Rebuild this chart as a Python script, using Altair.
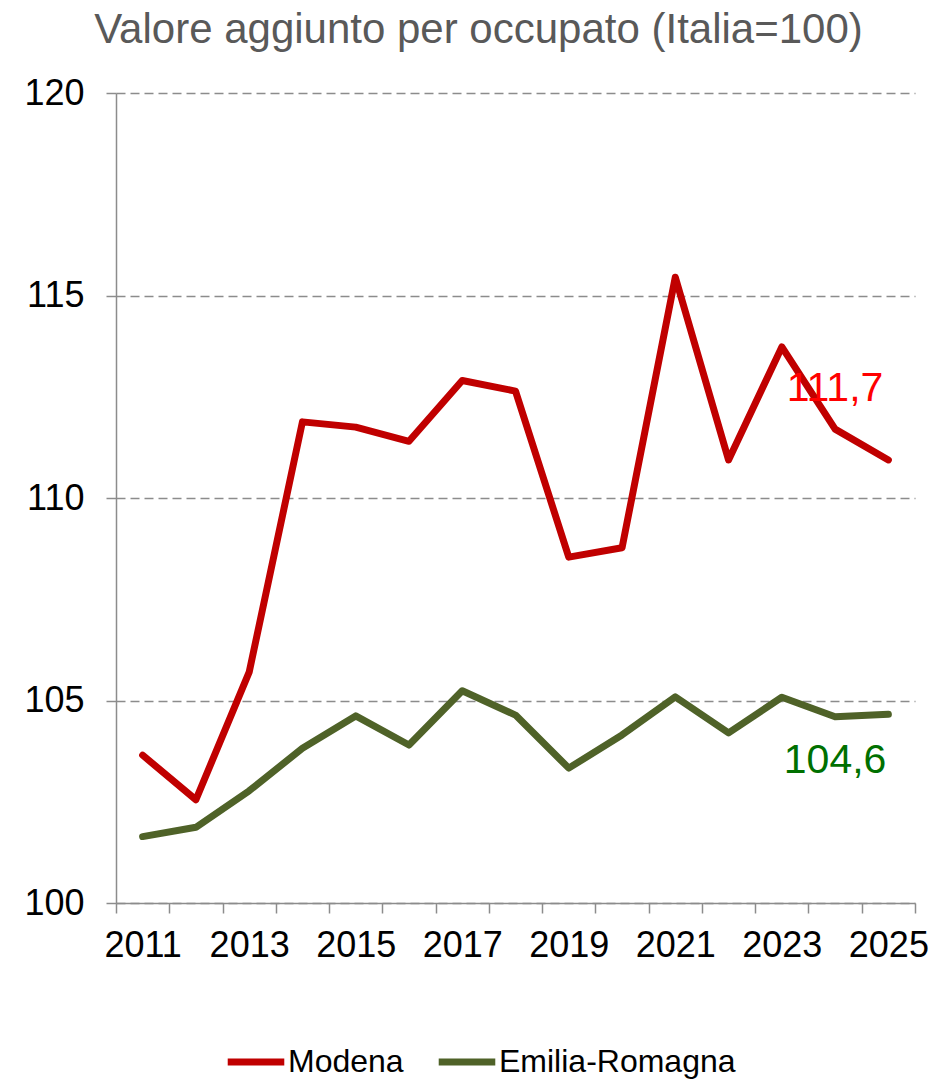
import altair as alt
import pandas as pd

years = list(range(2011, 2026))
modena = [103.65, 102.55, 105.7, 111.88, 111.75, 111.4, 112.9, 112.64,
          108.54, 108.77, 115.45, 110.94, 113.73, 111.7, 110.94]
emilia = [101.64, 101.87, 102.77, 103.82, 104.62, 103.9, 105.24, 104.64,
          103.33, 104.15, 105.09, 104.2, 105.08, 104.6, 104.66]
series = ["Modena", "Emilia-Romagna"]
series_colors = ["#C00000", "#4F6228"]

label_texts = ["111,7", "104,6"]
label_years = [2024, 2024]
label_values = [112.7, 103.5]
label_colors = ["#FF0000", "#007000"]

y_ticks = [100, 105, 110, 115, 120]

FONT = "Liberation Sans"

df = pd.DataFrame({
    "year": years * 2,
    "value": modena + emilia,
    "series": [series[0]] * len(years) + [series[1]] * len(years),
})
labels_df = pd.DataFrame({
    "year": label_years,
    "value": label_values,
    "text": label_texts,
    "color": label_colors,
})

x_enc = alt.X(
    "year:O",
    scale=alt.Scale(type="band", paddingInner=0, paddingOuter=0),
    bandPosition=0.5,
    axis=alt.Axis(
        title=None,
        labelAngle=0,
        labelExpr="datum.value % 2 == 1 ? datum.label : ''",
        tickBand="extent",
        labelFontSize=36,
        labelFont=FONT,
        labelColor="#000000",
        labelPadding=15,
        tickSize=10,
        tickColor="#8C8C8C",
        tickWidth=1.5,
        domainColor="#8C8C8C",
        domainWidth=1.5,
        grid=False,
    ),
)

y_enc = alt.Y(
    "value:Q",
    scale=alt.Scale(domain=[100, 120], nice=False, zero=False),
    axis=alt.Axis(
        title=None,
        values=y_ticks,
        labelFontSize=36,
        labelFont=FONT,
        labelColor="#000000",
        labelPadding=22,
        tickSize=10,
        tickColor="#8C8C8C",
        tickWidth=1.5,
        domainColor="#8C8C8C",
        domainWidth=1.5,
        grid=True,
        gridColor="#8C8C8C",
        gridWidth=1.5,
        gridDash=[9, 5],
    ),
)

lines = alt.Chart(df).mark_line(
    strokeWidth=7, strokeCap="round", strokeJoin="round"
).encode(
    x=x_enc,
    y=y_enc,
    color=alt.Color(
        "series:N",
        scale=alt.Scale(domain=series, range=series_colors),
        sort=series,
        legend=alt.Legend(
            title=None,
            orient="none",
            direction="horizontal",
            legendX=108,
            legendY=937,
            symbolType="stroke",
            symbolSize=3200,
            symbolStrokeWidth=7,
            labelFontSize=32,
            labelFont=FONT,
            labelColor="#000000",
            labelOffset=0,
            labelLimit=0,
            columnPadding=20,
            padding=0,
        ),
    ),
)

texts = alt.Chart(labels_df).mark_text(
    fontSize=41, font=FONT, align="center", baseline="middle"
).encode(
    x=alt.X("year:O", bandPosition=0.5),
    y=alt.Y("value:Q"),
    text="text:N",
    color=alt.Color("color:N", scale=None),
)

chart = alt.layer(lines, texts).properties(
    width=799,
    height=810,
    padding={"left": 108, "top": 85, "right": 28, "bottom": 177},
    autosize=alt.AutoSizeParams(type="none"),
    title=alt.TitleParams(
        text="Valore aggiunto per occupato (Italia=100)",
        fontSize=42,
        font=FONT,
        fontWeight="normal",
        color="#595959",
        anchor="middle",
        frame="group",
        dx=-37,
        offset=23,
    ),
).configure_view(stroke=None)

chart.save("out.html", embed_options={"renderer": "svg", "actions": False})
